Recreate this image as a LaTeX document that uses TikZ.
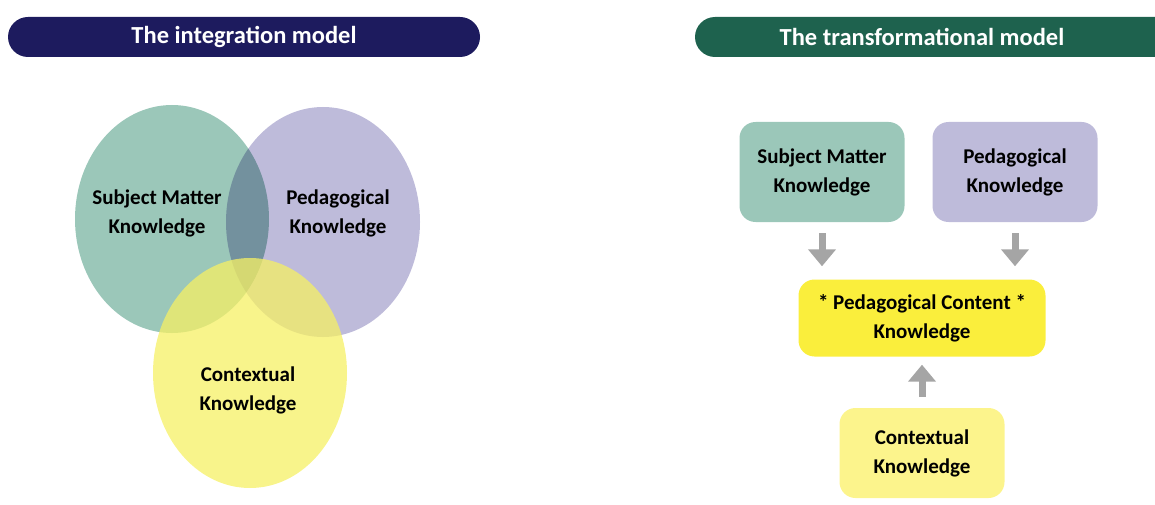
\documentclass[tikz,border=0pt]{standalone}
\usepackage{fontspec}
\setmainfont{Carlito}
\usetikzlibrary{arrows.meta}
\definecolor{navy}{RGB}{29,27,94}
\definecolor{pine}{RGB}{30,98,78}
\definecolor{sage}{RGB}{155,199,185}
\definecolor{lilac}{RGB}{190,187,218}
\definecolor{lemon}{RGB}{246,240,100}
\definecolor{lemonbox}{RGB}{250,238,60}
\definecolor{palelemon}{RGB}{252,244,140}
\definecolor{arrowgrey}{RGB}{165,165,165}
\begin{document}
\begin{tikzpicture}
[x=1pt,y=-1pt,every node/.style={font=\fontsize{21}{29}\selectfont\bfseries,align=center}]
\useasboundingbox (0,0) rectangle (1155,505);
\tikzset{title/.style={text=white,font=\fontsize{24.5}{28}\selectfont\bfseries},
 box/.style={rounded corners=16pt,minimum width=165pt,minimum height=100pt},
 flow/.style={arrowgrey,line width=7pt,-{Triangle[width=27pt,length=17pt]},shorten <=11pt,shorten >=13pt}}
\fill[navy,rounded corners=20pt] (8,17) rectangle (480,57);
\fill[pine,rounded corners=20pt] (695,17) rectangle (1190,57);
\node[title] (imodel) at (244,37) {The integration model};
\node[title] (tmodel) at (922,37) {The transformational model};
\fill[sage] (172,219) ellipse [x radius=97pt,y radius=114pt];
\fill[lilac,blend mode=multiply] (323,222) ellipse [x radius=97pt,y radius=115pt];
\fill[lemon,fill opacity=.75] (250,373) ellipse [x radius=97pt,y radius=115pt];
\node (smk) at (157,213) {Subject Matter\\Knowledge};
\node (pk) at (338,213) {Pedagogical\\Knowledge};
\node (ck) at (248,390) {Contextual\\Knowledge};
\node[box,fill=sage] (smkbox) at (822,172) {Subject Matter\\Knowledge};
\node[box,fill=lilac] (pkbox) at (1015,172) {Pedagogical\\Knowledge};
\node[box,fill=lemonbox,minimum width=247pt,minimum height=77pt] (pckbox) at (922,318) {* Pedagogical Content *\\Knowledge};
\node[box,fill=palelemon,minimum height=90pt] (ckbox) at (922,453) {Contextual\\Knowledge};
\draw[flow] (smkbox) -- (smkbox |- pckbox.north);
\draw[flow] (pkbox) -- (pkbox |- pckbox.north);
\draw[flow,shorten >=8pt] (ckbox) -- (pckbox);
\end{tikzpicture}
\end{document}
